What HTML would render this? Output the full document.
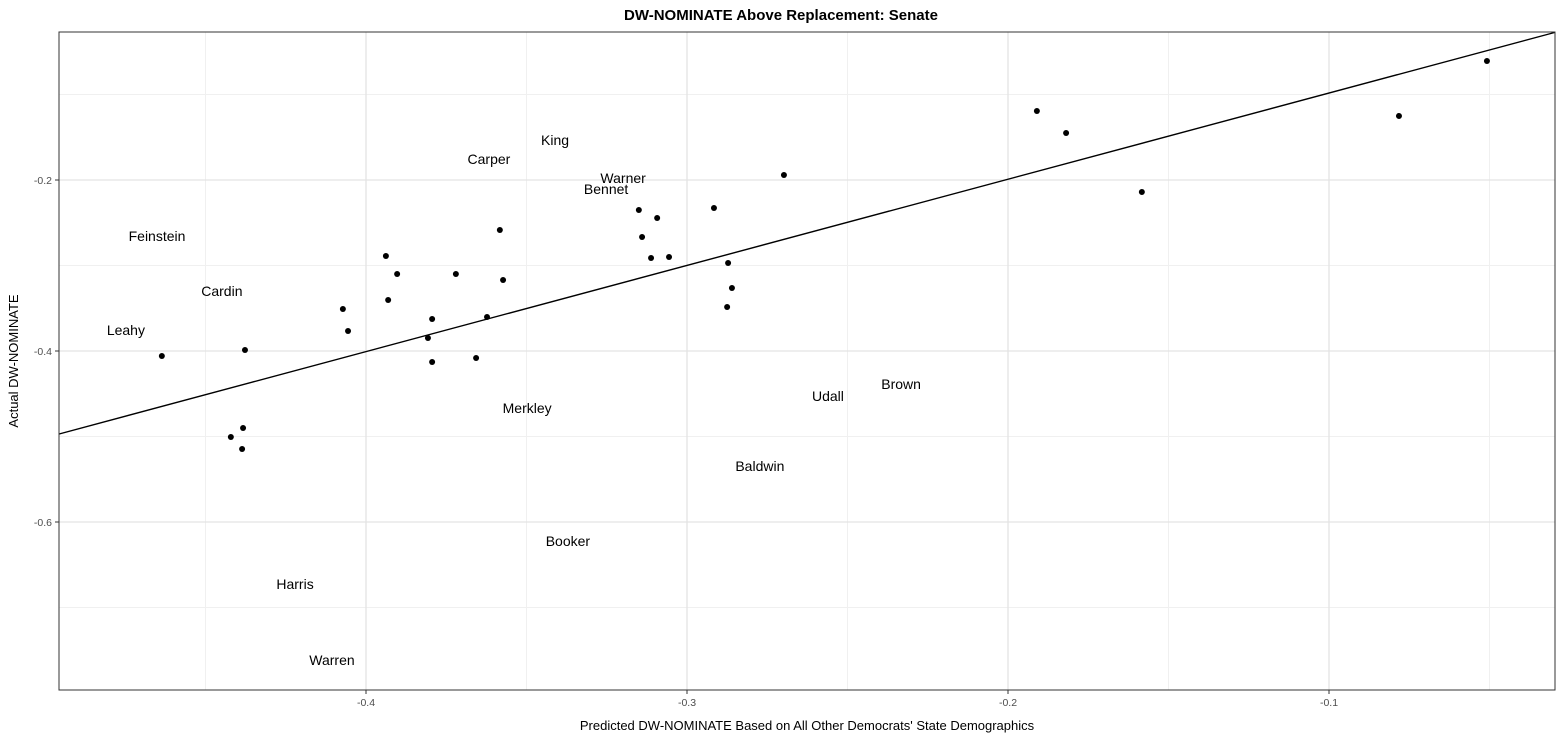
<!DOCTYPE html>
<html><head><meta charset="utf-8"><style>
body{margin:0;background:#fff;font-family:"Liberation Sans",sans-serif}
svg text{font-family:"Liberation Sans",sans-serif}
</style></head><body>
<svg id="chart" width="1562" height="740" xmlns="http://www.w3.org/2000/svg">
<text x="781" y="20" text-anchor="middle" font-size="15" font-weight="bold">DW-NOMINATE Above Replacement: Senate</text>
<g id="grid"></g><g id="marks"></g><g id="axes"></g>
<text x="807" y="730" text-anchor="middle" font-size="13">Predicted DW-NOMINATE Based on All Other Democrats' State Demographics</text>
<text transform="translate(18,361) rotate(-90)" text-anchor="middle" font-size="13">Actual DW-NOMINATE</text>
</svg>
<script>
const xs=[-0.4636,-0.4377,-0.4383,-0.4421,-0.4386,-0.4072,-0.4056,-0.3938,-0.3903,-0.3931,-0.3794,-0.3807,-0.3794,-0.3720,-0.3583,-0.3573,-0.3623,-0.3657,-0.3150,-0.3093,-0.3140,-0.3112,-0.3056,-0.2916,-0.2872,-0.2860,-0.2875,-0.2698,-0.1910,-0.1819,-0.1583,-0.0782,-0.0508];
const ys=[-0.4058,-0.3988,-0.4901,-0.5006,-0.5146,-0.3509,-0.3766,-0.2889,-0.3099,-0.3404,-0.3626,-0.3848,-0.4129,-0.3099,-0.2585,-0.3170,-0.3602,-0.4082,-0.2351,-0.2444,-0.2667,-0.2912,-0.2901,-0.2327,-0.2971,-0.3263,-0.3485,-0.1942,-0.1193,-0.1450,-0.2140,-0.1251,-0.0608];
const labels=["Feinstein","Cardin","Leahy","Carper","King","Warner","Bennet","Merkley","Udall","Brown","Baldwin","Booker","Harris","Warren"];
const labelX=[-0.4651,-0.4449,-0.4748,-0.3617,-0.3411,-0.3199,-0.3252,-0.3498,-0.2561,-0.2333,-0.2773,-0.3371,-0.4221,-0.4106];
const labelY=[-0.2655,-0.3298,-0.3754,-0.1755,-0.1532,-0.1977,-0.2105,-0.4667,-0.4526,-0.4386,-0.5345,-0.6222,-0.6725,-0.7614];
const slope=1.008, intercept=0.0025;
const xTicks=[-0.4,-0.3,-0.2,-0.1], xMinor=[-0.45,-0.35,-0.25,-0.15,-0.05];
const yTicks=[-0.2,-0.4,-0.6], yMinor=[-0.1,-0.3,-0.5,-0.7];
const L=59,R=1555,T=32,B=690;
const X=v=>366+(v+0.4)*3210, Y=v=>180-(v+0.2)*855;
const NS="http://www.w3.org/2000/svg";
function mk(t,a,p){const e=document.createElementNS(NS,t);for(const k in a)e.setAttribute(k,a[k]);p.appendChild(e);return e;}
const g=document.getElementById('grid'),m=document.getElementById('marks'),ax=document.getElementById('axes');
xMinor.forEach(v=>{const e=mk('line',{x1:X(v),x2:X(v),y1:T,y2:B,stroke:'#f0f0f0','stroke-width':1},g);

});
yMinor.forEach(v=>{const e=mk('line',{x1:L,x2:R,y1:Y(v),y2:Y(v),stroke:'#f0f0f0','stroke-width':1},g);

});
xTicks.forEach(v=>{const e=mk('line',{x1:X(v),x2:X(v),y1:T,y2:B,stroke:'#e3e3e3','stroke-width':1.3},g);


mk('line',{x1:X(v),x2:X(v),y1:B,y2:B+4,stroke:'#333'},ax);
const t=mk('text',{x:X(v),y:B+16,'text-anchor':'middle','font-size':10.5,fill:'#4d4d4d'},ax);t.textContent=v.toFixed(1);

});
yTicks.forEach(v=>{const e=mk('line',{x1:L,x2:R,y1:Y(v),y2:Y(v),stroke:'#e3e3e3','stroke-width':1.3},g);


mk('line',{x1:L-4,x2:L,y1:Y(v),y2:Y(v),stroke:'#333'},ax);
const t=mk('text',{x:L-7,y:Y(v)+4,'text-anchor':'end','font-size':10.5,fill:'#4d4d4d'},ax);t.textContent=v.toFixed(1);

});
const border=mk('rect',{x:L,y:T,width:R-L,height:B-T,fill:'none',stroke:'#333','stroke-width':1},ax);


const x0=-0.4956,x1=-0.0296;
const ln=mk('line',{x1:X(x0),y1:Y(slope*x0+intercept),x2:X(x1),y2:Y(slope*x1+intercept),stroke:'#000','stroke-width':1.4},m);


xs.forEach((v,i)=>{const c=mk('circle',{cx:X(v),cy:Y(ys[i]),r:3,fill:'#000'},m);

});
labels.forEach((s,i)=>{const t=mk('text',{x:X(labelX[i]),y:Y(labelY[i])+5,'text-anchor':'middle','font-size':14,fill:'#000'},m);t.textContent=s;

});
</script>
</body></html>
